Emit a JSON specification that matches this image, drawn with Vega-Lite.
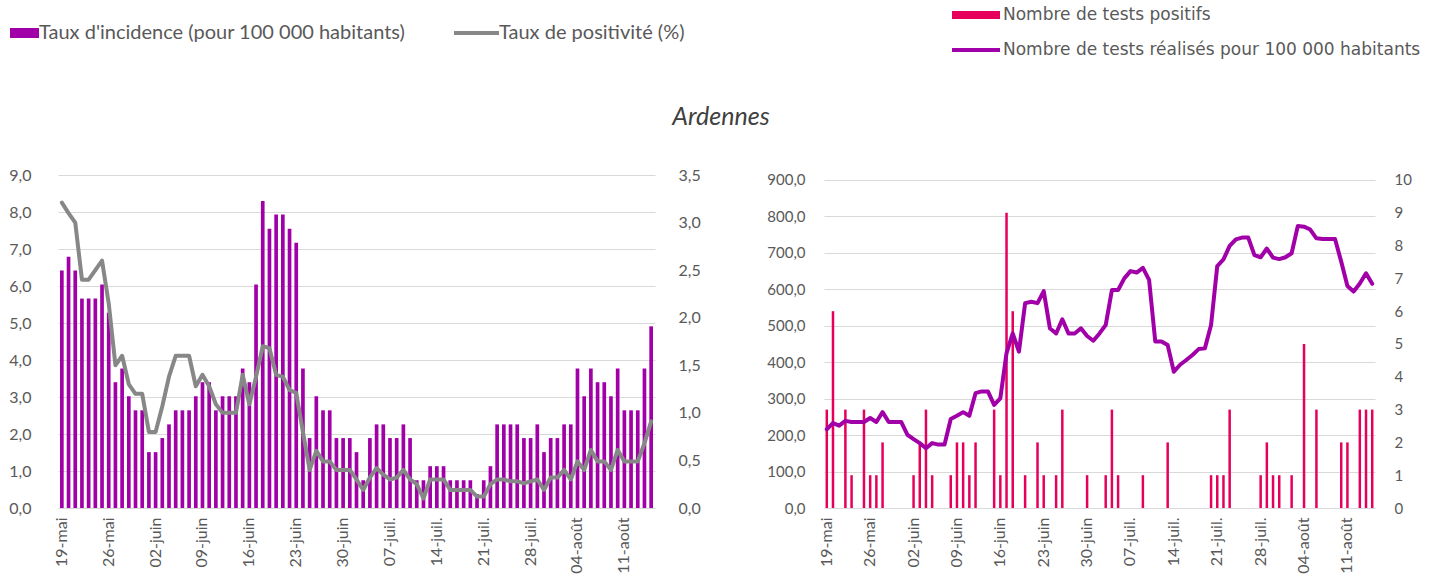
{
  "$schema": "https://vega.github.io/schema/vega-lite/v6.json",
  "background": "white",
  "padding": {"left": 8, "top": 3, "right": 5, "bottom": 0},
  "title": {"text": "Ardennes", "anchor": "middle", "offset": -127, "dx": 6, "font": "Lato", "fontSize": 25, "fontStyle": "italic", "fontWeight": "normal", "color": "#404040"},
  "data": {"values": [
    {"j":"19-mai","inc":6.42,"pos":3.21,"np":3,"t":216},
    {"j":"20-mai","inc":6.79,"pos":3.1,"np":6,"t":233},
    {"j":"21-mai","inc":6.42,"pos":3.0,"np":0,"t":226},
    {"j":"22-mai","inc":5.66,"pos":2.4,"np":3,"t":239},
    {"j":"23-mai","inc":5.66,"pos":2.4,"np":1,"t":236},
    {"j":"24-mai","inc":5.66,"pos":2.5,"np":0,"t":236},
    {"j":"25-mai","inc":6.04,"pos":2.6,"np":3,"t":236},
    {"j":"26-mai","inc":5.28,"pos":2.15,"np":1,"t":247},
    {"j":"27-mai","inc":3.40,"pos":1.5,"np":1,"t":236},
    {"j":"28-mai","inc":3.77,"pos":1.6,"np":2,"t":263},
    {"j":"29-mai","inc":3.02,"pos":1.3,"np":0,"t":236},
    {"j":"30-mai","inc":2.64,"pos":1.2,"np":0,"t":236},
    {"j":"31-mai","inc":2.64,"pos":1.2,"np":0,"t":236},
    {"j":"01-juin","inc":1.51,"pos":0.8,"np":0,"t":201},
    {"j":"02-juin","inc":1.51,"pos":0.8,"np":1,"t":189},
    {"j":"03-juin","inc":1.89,"pos":1.07,"np":2,"t":178},
    {"j":"04-juin","inc":2.26,"pos":1.38,"np":3,"t":164},
    {"j":"05-juin","inc":2.64,"pos":1.6,"np":1,"t":178},
    {"j":"06-juin","inc":2.64,"pos":1.6,"np":0,"t":174},
    {"j":"07-juin","inc":2.64,"pos":1.6,"np":0,"t":174},
    {"j":"08-juin","inc":3.02,"pos":1.28,"np":1,"t":244},
    {"j":"09-juin","inc":3.40,"pos":1.4,"np":2,"t":253},
    {"j":"10-juin","inc":3.40,"pos":1.28,"np":2,"t":263},
    {"j":"11-juin","inc":2.64,"pos":1.09,"np":1,"t":253},
    {"j":"12-juin","inc":3.02,"pos":1.0,"np":2,"t":315},
    {"j":"13-juin","inc":3.02,"pos":1.0,"np":0,"t":320},
    {"j":"14-juin","inc":3.02,"pos":1.0,"np":0,"t":320},
    {"j":"15-juin","inc":3.77,"pos":1.4,"np":3,"t":283},
    {"j":"16-juin","inc":3.40,"pos":1.09,"np":1,"t":301},
    {"j":"17-juin","inc":6.04,"pos":1.38,"np":9,"t":425},
    {"j":"18-juin","inc":8.30,"pos":1.7,"np":6,"t":479},
    {"j":"19-juin","inc":7.55,"pos":1.68,"np":0,"t":429},
    {"j":"20-juin","inc":7.93,"pos":1.4,"np":1,"t":562},
    {"j":"21-juin","inc":7.93,"pos":1.38,"np":0,"t":566},
    {"j":"22-juin","inc":7.55,"pos":1.24,"np":2,"t":562},
    {"j":"23-juin","inc":7.17,"pos":1.21,"np":1,"t":595},
    {"j":"24-juin","inc":3.77,"pos":0.8,"np":0,"t":493},
    {"j":"25-juin","inc":1.89,"pos":0.4,"np":1,"t":479},
    {"j":"26-juin","inc":3.02,"pos":0.6,"np":3,"t":518},
    {"j":"27-juin","inc":2.64,"pos":0.49,"np":0,"t":479},
    {"j":"28-juin","inc":2.64,"pos":0.49,"np":0,"t":479},
    {"j":"29-juin","inc":1.89,"pos":0.4,"np":0,"t":493},
    {"j":"30-juin","inc":1.89,"pos":0.4,"np":1,"t":472},
    {"j":"01-juil.","inc":1.89,"pos":0.4,"np":0,"t":459},
    {"j":"02-juil.","inc":1.51,"pos":0.3,"np":0,"t":479},
    {"j":"03-juil.","inc":0.75,"pos":0.19,"np":1,"t":502},
    {"j":"04-juil.","inc":1.89,"pos":0.32,"np":3,"t":598},
    {"j":"05-juil.","inc":2.26,"pos":0.42,"np":1,"t":598},
    {"j":"06-juil.","inc":2.26,"pos":0.35,"np":0,"t":630},
    {"j":"07-juil.","inc":1.89,"pos":0.3,"np":0,"t":650},
    {"j":"08-juil.","inc":1.89,"pos":0.32,"np":0,"t":646},
    {"j":"09-juil.","inc":2.26,"pos":0.4,"np":1,"t":659},
    {"j":"10-juil.","inc":1.89,"pos":0.3,"np":0,"t":626},
    {"j":"11-juil.","inc":0.75,"pos":0.25,"np":0,"t":457},
    {"j":"12-juil.","inc":0.75,"pos":0.1,"np":0,"t":457},
    {"j":"13-juil.","inc":1.13,"pos":0.3,"np":2,"t":447},
    {"j":"14-juil.","inc":1.13,"pos":0.3,"np":0,"t":374},
    {"j":"15-juil.","inc":1.13,"pos":0.3,"np":0,"t":393},
    {"j":"16-juil.","inc":0.75,"pos":0.19,"np":0,"t":406},
    {"j":"17-juil.","inc":0.75,"pos":0.19,"np":0,"t":420},
    {"j":"18-juil.","inc":0.75,"pos":0.19,"np":0,"t":436},
    {"j":"19-juil.","inc":0.75,"pos":0.19,"np":0,"t":438},
    {"j":"20-juil.","inc":0.38,"pos":0.12,"np":1,"t":502},
    {"j":"21-juil.","inc":0.75,"pos":0.12,"np":1,"t":664},
    {"j":"22-juil.","inc":1.13,"pos":0.25,"np":1,"t":682},
    {"j":"23-juil.","inc":2.26,"pos":0.3,"np":3,"t":719},
    {"j":"24-juil.","inc":2.26,"pos":0.3,"np":0,"t":737},
    {"j":"25-juil.","inc":2.26,"pos":0.28,"np":0,"t":742},
    {"j":"26-juil.","inc":2.26,"pos":0.28,"np":0,"t":742},
    {"j":"27-juil.","inc":1.89,"pos":0.26,"np":0,"t":694},
    {"j":"28-juil.","inc":1.89,"pos":0.28,"np":1,"t":688},
    {"j":"29-juil.","inc":2.26,"pos":0.3,"np":2,"t":712},
    {"j":"30-juil.","inc":1.51,"pos":0.19,"np":1,"t":687},
    {"j":"31-juil.","inc":1.89,"pos":0.32,"np":1,"t":683},
    {"j":"01-août","inc":1.89,"pos":0.32,"np":0,"t":688},
    {"j":"02-août","inc":2.26,"pos":0.4,"np":1,"t":699},
    {"j":"03-août","inc":2.26,"pos":0.3,"np":0,"t":774},
    {"j":"04-août","inc":3.77,"pos":0.49,"np":5,"t":772},
    {"j":"05-août","inc":3.02,"pos":0.4,"np":0,"t":764},
    {"j":"06-août","inc":3.77,"pos":0.61,"np":3,"t":740},
    {"j":"07-août","inc":3.40,"pos":0.49,"np":0,"t":738},
    {"j":"08-août","inc":3.40,"pos":0.49,"np":0,"t":738},
    {"j":"09-août","inc":3.02,"pos":0.4,"np":0,"t":738},
    {"j":"10-août","inc":3.77,"pos":0.61,"np":2,"t":676},
    {"j":"11-août","inc":2.64,"pos":0.49,"np":2,"t":609},
    {"j":"12-août","inc":2.64,"pos":0.49,"np":0,"t":594},
    {"j":"13-août","inc":2.64,"pos":0.49,"np":3,"t":616},
    {"j":"14-août","inc":3.77,"pos":0.68,"np":3,"t":644},
    {"j":"15-août","inc":4.91,"pos":0.91,"np":3,"t":615}
  ]},
  "spacing": 169,
  "bounds": "flush",
  "resolve": {
    "scale": {"x": "independent", "y": "independent", "fill": "independent", "stroke": "independent"},
    "legend": {"fill": "independent", "stroke": "independent"}
  },
  "hconcat": [
    {
      "width": 597,
      "height": 333,
      "layer": [
        {
          "mark": {"type": "bar"},
          "encoding": {
            "x": {"field": "j", "type": "ordinal", "sort": null,
              "scale": {"paddingInner": 0.45, "paddingOuter": 0.3},
              "axis": {"values": ["19-mai","26-mai","02-juin","09-juin","16-juin","23-juin","30-juin","07-juil.","14-juil.","21-juil.","28-juil.","04-août","11-août"],
                "labelAngle": -90, "labelAlign": "right", "labelBaseline": "middle", "labelPadding": 9, "labelFontSize": 16, "title": null, "ticks": false, "domain": false, "grid": false}},
            "y": {"field": "inc", "type": "quantitative",
              "scale": {"domain": [0, 9], "nice": false},
              "axis": {"values": [0,1,2,3,4,5,6,7,8,9], "labelExpr": "replace(format(datum.value, '.1f'), '.', ',')",
                "grid": true, "gridColor": "#D9D9D9", "gridWidth": 1.2, "title": null, "labelPadding": 27, "labelFontSize": 16}},
            "fill": {"datum": "Taux d'incidence (pour 100 000 habitants)", "type": "nominal",
              "scale": {"range": ["#A100A8"]},
              "legend": {"orient": "none", "legendX": -48, "legendY": -156.5, "title": null, "padding": 0,
                "symbolType": "M-1,-0.345H1V0.345H-1Z", "symbolSize": 841, "symbolStrokeWidth": 0,
                "labelOffset": 0, "labelFont": "Lato", "labelFontSize": 20, "labelColor": "#595959", "labelLimit": 600}}
          }
        },
        {
          "mark": {"type": "line", "strokeWidth": 4, "strokeJoin": "round", "strokeCap": "round"},
          "encoding": {
            "x": {"field": "j", "type": "ordinal", "sort": null},
            "y": {"field": "pos", "type": "quantitative",
              "scale": {"domain": [0, 3.5], "nice": false},
              "axis": {"orient": "right", "values": [0,0.5,1,1.5,2,2.5,3,3.5], "labelExpr": "replace(format(datum.value, '.1f'), '.', ',')",
                "grid": false, "title": null, "labelPadding": 23, "labelFontSize": 16}},
            "stroke": {"datum": "Taux de positivité (%)", "type": "nominal",
              "scale": {"range": ["#878787"]},
              "legend": {"orient": "none", "legendX": 394, "legendY": -166.5, "title": null, "padding": 0,
                "symbolType": "stroke", "symbolSize": 2025, "symbolStrokeWidth": 4,
                "labelOffset": -2, "labelFont": "Lato", "labelFontSize": 20, "labelColor": "#595959", "labelLimit": 600}}
          }
        }
      ],
      "resolve": {"scale": {"y": "independent"}}
    },
    {
      "width": 551,
      "height": 333,
      "layer": [
        {
          "mark": {"type": "bar", "width": 2.5},
          "encoding": {
            "x": {"field": "j", "type": "ordinal", "sort": null,
              "scale": {"paddingInner": 0.6, "paddingOuter": 0.25},
              "axis": {"values": ["19-mai","26-mai","02-juin","09-juin","16-juin","23-juin","30-juin","07-juil.","14-juil.","21-juil.","28-juil.","04-août","11-août"],
                "labelAngle": -90, "labelAlign": "right", "labelBaseline": "middle", "labelPadding": 9, "labelFontSize": 16, "title": null, "ticks": false, "domain": false, "grid": false}},
            "y": {"field": "np", "type": "quantitative",
              "scale": {"domain": [0, 10.152], "nice": false},
              "axis": {"orient": "right", "values": [0,1,2,3,4,5,6,7,8,9,10], "format": "d",
                "grid": false, "title": null, "labelPadding": 19, "labelFontSize": 15}},
            "fill": {"datum": "Nombre de tests positifs", "type": "nominal",
              "scale": {"range": ["#E6005C"]},
              "legend": {"orient": "none", "legendX": 140, "legendY": -172, "title": null, "padding": 0,
                "symbolType": "M-2,-0.3333H2V0.3333H-2Z", "symbolSize": 576, "symbolStrokeWidth": 0,
                "labelOffset": 15, "labelFont": "DejaVu Sans", "labelFontSize": 17, "labelColor": "#595959", "labelLimit": 600}}
          }
        },
        {
          "mark": {"type": "line", "strokeWidth": 4, "strokeJoin": "round", "strokeCap": "round"},
          "encoding": {
            "x": {"field": "j", "type": "ordinal", "sort": null},
            "y": {"field": "t", "type": "quantitative",
              "scale": {"domain": [0, 913.7], "nice": false},
              "axis": {"orient": "left", "values": [0,100,200,300,400,500,600,700,800,900], "labelExpr": "replace(format(datum.value, '.1f'), '.', ',')",
                "grid": true, "gridColor": "#D9D9D9", "gridWidth": 1.2, "title": null, "labelPadding": 19, "labelFontSize": 15}},
            "stroke": {"datum": "Nombre de tests réalisés pour 100 000 habitants", "type": "nominal",
              "scale": {"range": ["#A100A8"]},
              "legend": {"orient": "none", "legendX": 138, "legendY": -139, "title": null, "padding": 0,
                "symbolType": "M-2,0H2", "symbolSize": 576, "symbolStrokeWidth": 4,
                "labelOffset": 13, "labelFont": "DejaVu Sans", "labelFontSize": 17, "labelColor": "#595959", "labelLimit": 600}}
          }
        }
      ],
      "resolve": {"scale": {"y": "independent"}}
    }
  ],
  "config": {
    "view": {"stroke": null},
    "axis": {"labelFont": "Lato", "labelColor": "#595959", "ticks": false, "domain": false}
  }
}
